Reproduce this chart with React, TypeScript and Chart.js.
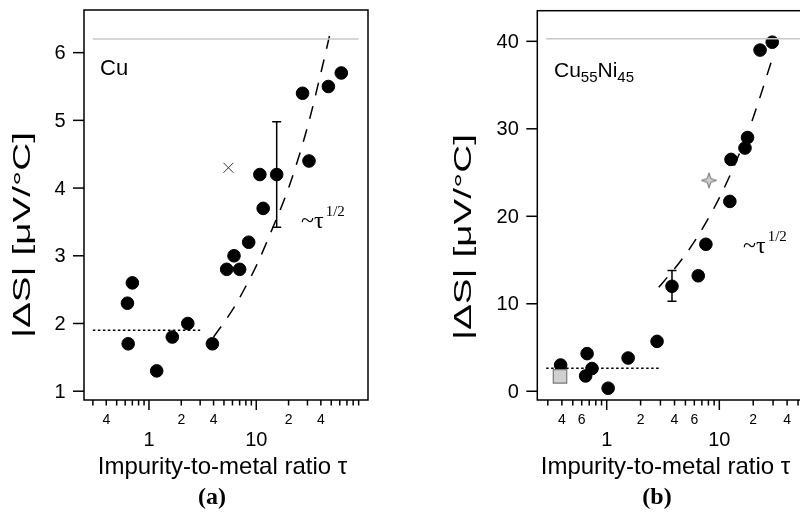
import React, { useEffect, useRef } from 'react';
import { Chart, registerables } from 'chart.js';
Chart.register(...registerables);

const SANS = '"Liberation Sans", Arial, sans-serif';
const SERIF = '"Liberation Serif", "Times New Roman", serif';

// ---------- Panel (a): Cu ----------
const A_X = [0.63, 0.64, 0.70, 1.18, 1.65, 2.3, 3.9, 5.3, 6.2, 7.0, 8.5, 10.8, 11.6, 15.5, 27, 31, 47, 62];
const A_Y = [2.3, 1.7, 2.6, 1.3, 1.8, 2.0, 1.7, 2.8, 3.0, 2.8, 3.2, 4.2, 3.7, 4.2, 5.4, 4.4, 5.5, 5.7];
const A_CROSS_X = [5.5];
const A_CROSS_Y = [4.3];
const A_ERR_X = [15.5];
const A_ERR_LOW = [3.42];
const A_ERR_HIGH = [4.98];
const A_FLAT_X = [0.3, 3.0];
const A_FLAT_Y = [1.9, 1.9];
const A_REF_X = [0.3, 90];
const A_REF_Y = [6.2, 6.2];
const A_FIT_X = [4, 6, 8, 10, 15, 20, 30, 40, 49];
const A_FIT_Y = [1.8, 2.2, 2.55, 2.85, 3.5, 4.0, 4.9, 5.7, 6.3];
const A_Y_TICKS = [1, 2, 3, 4, 5, 6];
const A_X_MINOR_LABELS = [0.4, 2, 4, 20, 40];

// ---------- Panel (b): Cu55Ni45 ----------
const B_X = [0.39, 0.65, 0.67, 0.74, 1.03, 1.55, 2.8, 3.8, 6.5, 7.6, 12.4, 12.7, 16.9, 17.8, 23, 29.5];
const B_Y = [3.0, 1.75, 4.3, 2.6, 0.35, 3.8, 5.7, 12.0, 13.2, 16.8, 21.7, 26.5, 27.8, 29.0, 39.0, 39.9];
const B_SQUARE_X = [0.385];
const B_SQUARE_Y = [1.7];
const B_STAR_X = [8.1];
const B_STAR_Y = [24.1];
const B_ERR_X = [3.8];
const B_ERR_LOW = [10.3];
const B_ERR_HIGH = [13.8];
const B_FLAT_X = [0.29, 3.0];
const B_FLAT_Y = [2.62, 2.62];
const B_REF_X = [0.29, 110];
const B_REF_Y = [40.3, 40.3];
const B_FIT_X = [2.9, 4, 6, 10, 15, 20, 29.5];
const B_FIT_Y = [11.9, 14.0, 17.1, 22.1, 27.1, 31.3, 38.0];
const B_Y_TICKS = [0, 10, 20, 30, 40];
const B_X_MINOR_LABELS = [0.4, 0.6, 2, 4, 6, 20, 40, 60];

const X_MAJOR_LABELS = [1, 10];
const X_TITLE = 'Impurity-to-metal ratio τ';
const Y_TITLE = '|ΔS| [μV/°C]';

const pts = (xs: number[], ys: number[]) => xs.map((x, i) => ({ x, y: ys[i] }));

function makeStar(): HTMLCanvasElement {
  const c = document.createElement('canvas');
  c.width = 18; c.height = 18;
  const g = c.getContext('2d')!;
  const cx = 9, cy = 9, R = 7.5, r = 2.6;
  g.beginPath();
  for (let i = 0; i < 8; i++) {
    const a = (i * Math.PI) / 4 - Math.PI / 2;
    const rad = i % 2 === 0 ? R : r;
    const px = cx + rad * Math.cos(a), py = cy + rad * Math.sin(a);
    if (i === 0) g.moveTo(px, py); else g.lineTo(px, py);
  }
  g.closePath();
  g.fillStyle = '#cfcfcf';
  g.fill();
  g.strokeStyle = '#6e6e6e';
  g.lineWidth = 1;
  g.stroke();
  return c;
}

type Deco = {
  yTicks: number[];
  minorLabels: number[];
  tickMin: number;
  tickMax: number;
  errX: number[]; errLow: number[]; errHigh: number[];
  yTitleX: number; yTitleY: number;
  xTitleX: number; xTitleY: number;
  panelLabel: string; panelLabelX: number;
  name: (ctx: CanvasRenderingContext2D) => void;
  tauX: number; tauY: number;
};

function decoPlugin(d: Deco) {
  return {
    id: 'deco',
    afterDatasetsDraw(chart: any) {
      const ctx: CanvasRenderingContext2D = chart.ctx;
      const xs = chart.scales.x, ys = chart.scales.y;
      ctx.save();
      ctx.strokeStyle = '#000';
      ctx.lineWidth = 1.5;
      for (let i = 0; i < d.errX.length; i++) {
        const x = xs.getPixelForValue(d.errX[i]);
        const y1 = ys.getPixelForValue(d.errLow[i]);
        const y2 = ys.getPixelForValue(d.errHigh[i]);
        ctx.beginPath();
        ctx.moveTo(x, y1); ctx.lineTo(x, y2);
        ctx.moveTo(x - 4.5, y1); ctx.lineTo(x + 4.5, y1);
        ctx.moveTo(x - 4.5, y2); ctx.lineTo(x + 4.5, y2);
        ctx.stroke();
      }
      ctx.restore();
    },
    afterDraw(chart: any) {
      const ctx: CanvasRenderingContext2D = chart.ctx;
      const { left, right, top, bottom } = chart.chartArea;
      const xs = chart.scales.x, ys = chart.scales.y;
      ctx.save();
      ctx.strokeStyle = '#000';
      ctx.fillStyle = '#000';
      ctx.lineWidth = 1.5;
      ctx.strokeRect(left, top, right - left, bottom - top);
      // y ticks
      ctx.font = `20px ${SANS}`;
      ctx.textAlign = 'right';
      ctx.textBaseline = 'middle';
      for (const v of d.yTicks) {
        const y = ys.getPixelForValue(v);
        ctx.beginPath(); ctx.moveTo(left - 11, y); ctx.lineTo(left, y); ctx.stroke();
        ctx.fillText(String(v), left - 18.5, y + 1);
      }
      // x ticks (log)
      for (let dec = 0.1; dec <= 100; dec *= 10) {
        for (let m = 1; m <= 9; m++) {
          const v = m * dec;
          if (v < d.tickMin - 1e-9 || v > d.tickMax + 1e-9) continue;
          const x = xs.getPixelForValue(v);
          const len = m === 1 ? 10 : 5.5;
          ctx.beginPath(); ctx.moveTo(x, bottom); ctx.lineTo(x, bottom + len); ctx.stroke();
        }
      }
      ctx.textAlign = 'center';
      ctx.textBaseline = 'alphabetic';
      ctx.font = `14px ${SANS}`;
      for (const v of d.minorLabels) {
        const x = xs.getPixelForValue(v);
        const lab = String(Math.round(v / Math.pow(10, Math.floor(Math.log10(v) + 1e-9))));
        ctx.fillText(lab, x, bottom + 24);
      }
      ctx.font = `20px ${SANS}`;
      for (const v of X_MAJOR_LABELS) {
        ctx.fillText(String(v), xs.getPixelForValue(v), bottom + 46);
      }
      // axis titles
      ctx.font = `24px ${SANS}`;
      ctx.textBaseline = 'middle';
      ctx.fillText(X_TITLE, d.xTitleX, d.xTitleY);
      ctx.save();
      ctx.font = `23px ${SANS}`;
      const tw = ctx.measureText(Y_TITLE).width;
      ctx.translate(d.yTitleX, d.yTitleY);
      ctx.rotate(-Math.PI / 2);
      ctx.scale(206 / tw, 1);
      ctx.fillText(Y_TITLE, 0, 0);
      ctx.restore();
      // panel label
      ctx.font = `bold 24px ${SERIF}`;
      ctx.fillText(d.panelLabel, d.panelLabelX, 498);
      // sample name
      d.name(ctx);
      // tau annotation
      ctx.textAlign = 'left';
      ctx.textBaseline = 'alphabetic';
      ctx.font = `24px ${SERIF}`;
      ctx.fillText('~τ', d.tauX, d.tauY);
      const w = ctx.measureText('~τ').width;
      ctx.font = `15px ${SERIF}`;
      ctx.fillText('1/2', d.tauX + w + 2, d.tauY - 12);
      ctx.restore();
    },
  };
}

type PanelProps = {
  cssLeft: number; width: number;
  padLeft: number; padRight: number;
  xMin: number; xMax: number; yMin: number; yMax: number;
  datasets: (star: HTMLCanvasElement) => any[];
  deco: Deco;
};

function Panel(p: PanelProps) {
  const ref = useRef<HTMLCanvasElement>(null);
  useEffect(() => {
    const star = makeStar();
    const chart = new Chart(ref.current!, {
      type: 'scatter',
      data: { datasets: p.datasets(star) },
      options: {
        animation: false,
        responsive: false,
        maintainAspectRatio: false,
        devicePixelRatio: 1,
        layout: { padding: { left: p.padLeft, right: p.padRight, top: 10, bottom: 115 } },
        plugins: { legend: { display: false }, tooltip: { enabled: false } },
        scales: {
          x: { type: 'logarithmic', display: false, min: p.xMin, max: p.xMax },
          y: { type: 'linear', display: false, min: p.yMin, max: p.yMax },
        },
      } as any,
      plugins: [decoPlugin(p.deco)],
    });
    return () => chart.destroy();
  }, []);
  return (
    <canvas
      ref={ref}
      width={p.width}
      height={515}
      style={{ position: 'absolute', left: p.cssLeft, top: 0, width: p.width, height: 515 }}
    />
  );
}

const lineDs = (data: any[], color: string, dash: number[], extra: any = {}) => ({
  data, showLine: true, borderColor: color, borderWidth: 1.5, borderDash: dash,
  pointRadius: 0, fill: false, ...extra,
});
const circleDs = (data: any[]) => ({
  data, pointStyle: 'circle', pointRadius: 6.3, backgroundColor: '#000', borderColor: '#000', borderWidth: 1,
});

export default function App() {
  const decoA: Deco = {
    yTicks: A_Y_TICKS, minorLabels: A_X_MINOR_LABELS, tickMin: 0.3, tickMax: 90,
    errX: A_ERR_X, errLow: A_ERR_LOW, errHigh: A_ERR_HIGH,
    yTitleX: 23.5, yTitleY: 235, xTitleX: 222.5, xTitleY: 467,
    panelLabel: '(a)', panelLabelX: 212,
    name: (ctx) => {
      ctx.textAlign = 'left'; ctx.textBaseline = 'alphabetic';
      ctx.font = `22px ${SANS}`;
      ctx.fillText('Cu', 100, 75);
    },
    tauX: 301, tauY: 228,
  };
  const decoB: Deco = {
    yTicks: B_Y_TICKS, minorLabels: B_X_MINOR_LABELS, tickMin: 0.3, tickMax: 100,
    errX: B_ERR_X, errLow: B_ERR_LOW, errHigh: B_ERR_HIGH,
    yTitleX: 65, yTitleY: 237, xTitleX: 265.5, xTitleY: 467,
    panelLabel: '(b)', panelLabelX: 257,
    name: (ctx) => {
      ctx.textAlign = 'left'; ctx.textBaseline = 'alphabetic';
      let x = 154;
      const y = 77;
      ctx.font = `21px ${SANS}`;
      ctx.fillText('Cu', x, y); x += ctx.measureText('Cu').width;
      ctx.font = `15px ${SANS}`;
      ctx.fillText('55', x, y + 5); x += ctx.measureText('55').width;
      ctx.font = `21px ${SANS}`;
      ctx.fillText('Ni', x, y); x += ctx.measureText('Ni').width;
      ctx.font = `15px ${SANS}`;
      ctx.fillText('45', x, y + 5);
    },
    tauX: 343, tauY: 253,
  };
  return (
    <div style={{ position: 'fixed', left: 0, top: 0, width: 800, height: 515, overflow: 'hidden', background: '#fff' }}>
      <Panel
        cssLeft={0} width={400} padLeft={84} padRight={32}
        xMin={0.248} xMax={110} yMin={0.87} yMax={6.63}
        deco={decoA}
        datasets={() => [
          lineDs(pts(A_REF_X, A_REF_Y), '#c8c8c8', []),
          lineDs(pts(A_FLAT_X, A_FLAT_Y), '#000', [2.5, 2.5]),
          circleDs(pts(A_X, A_Y)),
          { data: pts(A_CROSS_X, A_CROSS_Y), pointStyle: 'crossRot', pointRadius: 7, borderColor: '#333', borderWidth: 1 },
          lineDs(pts(A_FIT_X, A_FIT_Y), '#000', [13, 11], { cubicInterpolationMode: 'monotone' }),
        ]}
      />
      <Panel
        cssLeft={400} width={460} padLeft={137.3} padRight={23.4}
        xMin={0.242} xMax={110} yMin={-1} yMax={43.5}
        deco={decoB}
        datasets={(star) => [
          lineDs(pts(B_REF_X, B_REF_Y), '#c8c8c8', []),
          lineDs(pts(B_FLAT_X, B_FLAT_Y), '#000', [2.5, 2.5]),
          { data: pts(B_SQUARE_X, B_SQUARE_Y), pointStyle: 'rect', pointRadius: 9.5, backgroundColor: '#d0d0d0', borderColor: '#777', borderWidth: 1.2 },
          circleDs(pts(B_X, B_Y)),
          { data: pts(B_STAR_X, B_STAR_Y), pointStyle: star, pointRadius: 9 },
          lineDs(pts(B_FIT_X, B_FIT_Y), '#000', [13, 11], { cubicInterpolationMode: 'monotone' }),
        ]}
      />
    </div>
  );
}
